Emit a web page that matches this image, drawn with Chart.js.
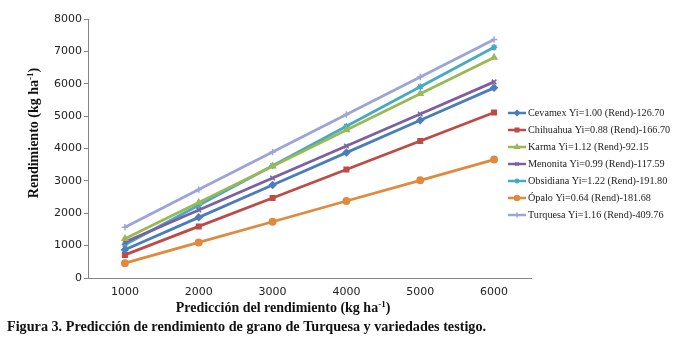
<!DOCTYPE html>
<html>
<head>
<meta charset="utf-8">
<script src="https://cdn.jsdelivr.net/npm/chart.js@4.4.1/dist/chart.umd.min.js"></script>
<style>
  html, body { margin: 0; padding: 0; background: #fff; }
  #wrap { width: 676px; height: 344px; position: relative; }
</style>
</head>
<body>
<div id="wrap"><canvas id="chart"></canvas></div>
<script>
// DATA //
const labels = ["1000", "2000", "3000", "4000", "5000", "6000"];
const cevamex = [873, 1873, 2873, 3873, 4873, 5873];
const chihuahua = [713, 1593, 2473, 3353, 4233, 5113];
const karma = [1212, 2332, 3452, 4572, 5692, 6812];
const menonita = [1108, 2098, 3088, 4078, 5068, 6058];
const obsidiana = [1028, 2248, 3468, 4688, 5908, 7128];
const opalo = [458, 1098, 1738, 2378, 3018, 3658];
const turquesa = [1570, 2730, 3890, 5050, 6210, 7370];

const seriesNames = [
  "Cevamex Yi=1.00 (Rend)-126.70",
  "Chihuahua Yi=0.88 (Rend)-166.70",
  "Karma Yi=1.12 (Rend)-92.15",
  "Menonita Yi=0.99 (Rend)-117.59",
  "Obsidiana Yi=1.22 (Rend)-191.80",
  "Ópalo Yi=0.64 (Rend)-181.68",
  "Turquesa Yi=1.16 (Rend)-409.76",
];
const seriesValues = [cevamex, chihuahua, karma, menonita, obsidiana, opalo, turquesa];
const seriesColors = ["#4A7EBB", "#BE4B48", "#98B954", "#7D60A0", "#46AAC5", "#E08A3E", "#9CA5D8"];
const seriesMarkers = ["rectRot", "rect", "triangle", "crossRot", "star", "circle", "cross"];

const serif = "'Liberation Serif', 'Times New Roman', serif";

// draw text pieces, some raised as superscript
function drawRich(ctx, parts, x, y, size, align) {
  const supSize = Math.round(size * 0.65);
  const widths = parts.map((p) => {
    ctx.font = `bold ${p.sup ? supSize : size}px ${serif}`;
    return ctx.measureText(p.t).width;
  });
  const total = widths.reduce((a, b) => a + b, 0);
  let cx = align === "center" ? x - total / 2 : x;
  ctx.textAlign = "left";
  ctx.textBaseline = "alphabetic";
  parts.forEach((p, i) => {
    ctx.font = `bold ${p.sup ? supSize : size}px ${serif}`;
    ctx.fillText(p.t, cx, p.sup ? y - size * 0.38 : y);
    cx += widths[i];
  });
}

// axis titles, caption and legend
const textPlugin = {
  id: "texts",
  afterDraw(chart) {
    const ctx = chart.ctx;
    ctx.save();
    ctx.fillStyle = "#111";

    // y title
    ctx.save();
    ctx.translate(38, 133);
    ctx.rotate(-Math.PI / 2);
    drawRich(ctx, [{ t: "Rendimiento (kg ha" }, { t: "-1", sup: true }, { t: ")" }], 0, 0, 14, "center");
    ctx.restore();

    // x title
    drawRich(ctx, [{ t: "Predicción del rendimiento (kg ha" }, { t: "-1", sup: true }, { t: ")" }], 283, 312, 14, "center");

    // caption
    drawRich(ctx, [{ t: "Figura 3. Predicción de rendimiento de grano de Turquesa y variedades testigo." }], 7, 331, 14.2, "left");

    // legend
    chart.data.datasets.forEach((ds, i) => {
      const y = 113 + i * 17;
      ctx.strokeStyle = ds.borderColor;
      ctx.lineWidth = 2.5;
      ctx.beginPath();
      ctx.moveTo(508, y);
      ctx.lineTo(526, y);
      ctx.stroke();
      ctx.fillStyle = ds.borderColor;
      ctx.lineWidth = 1.5;
      Chart.helpers.drawPoint(ctx, { pointStyle: ds.pointStyle, rotation: 0, radius: 2.5, borderWidth: 1.5 }, 517, y);
      ctx.fillStyle = "#222";
      ctx.font = `10.2px ${serif}`;
      ctx.textAlign = "left";
      ctx.textBaseline = "middle";
      ctx.fillText(ds.label, 528, y + 0.5);
    });
    ctx.restore();
  },
};

const datasets = seriesNames.map((name, i) => ({
  label: name,
  data: seriesValues[i],
  borderColor: seriesColors[i],
  backgroundColor: seriesColors[i],
  borderWidth: 2.8,
  pointStyle: seriesMarkers[i],
  pointRadius: 3.2,
  pointBorderWidth: 1.5,
  tension: 0,
}));

new Chart(document.getElementById("chart"), {
  type: "line",
  data: { labels: labels, datasets: datasets },
  options: {
    responsive: true,
    maintainAspectRatio: false,
    animation: false,
    layout: { padding: { top: 19, right: 145, bottom: 0, left: 0 } },
    plugins: { legend: { display: false }, tooltip: { enabled: false } },
    scales: {
      x: {
        offset: true,
        grid: { display: false, drawTicks: false },
        border: { display: true, color: "#868686", width: 1 },
        ticks: { color: "#222", padding: 8, font: { family: "'DejaVu Sans', Verdana, sans-serif", size: 11 } },
        afterFit(scale) { scale.height = 66; },
      },
      y: {
        min: 0,
        max: 8000,
        grid: { drawOnChartArea: false, drawTicks: true, tickLength: 4, color: "#868686" },
        border: { display: true, color: "#868686", width: 1 },
        ticks: {
          stepSize: 1000,
          color: "#222",
          padding: 2,
          font: { family: "'DejaVu Sans', Verdana, sans-serif", size: 11 },
          callback: (v) => String(v),
        },
        afterFit(scale) { scale.width = 88; },
      },
    },
  },
  plugins: [textPlugin],
});
</script>
</body>
</html>
